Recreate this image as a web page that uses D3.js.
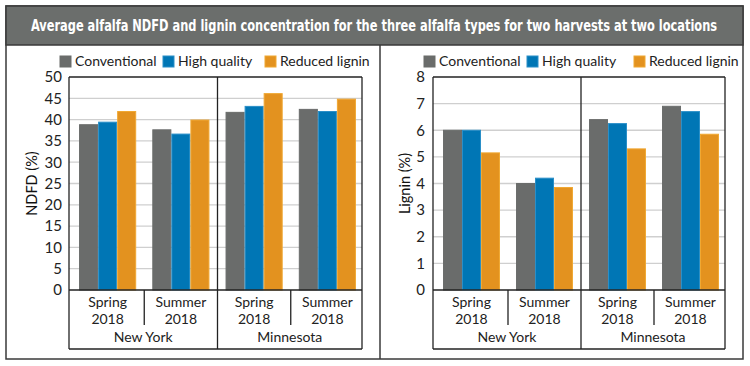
<!DOCTYPE html>
<html><head><meta charset="utf-8">
<script src="https://cdn.jsdelivr.net/npm/d3@7/dist/d3.min.js"></script>
<style>body{margin:0;background:#fff}svg{display:block}</style>
</head><body>
<svg id="c" width="750" height="366"></svg>
<script>
const title = "Average alfalfa NDFD and lignin concentration for the three alfalfa types for two harvests at two locations";
const seriesNames = ["Conventional", "High quality", "Reduced lignin"];
const colors = ["#6a6c6b", "#0076b5", "#e3921f"];
const strokes = ["#6a6c6b", "#2a8fc8", "#f0a833"];
const harvests = ["Spring|2018", "Summer|2018", "Spring|2018", "Summer|2018"];
const locations = ["New York", "Minnesota"];
const ndfdConventional = [38.8, 37.6, 41.7, 42.4];
const ndfdHighQuality = [39.4, 36.6, 43.1, 41.9];
const ndfdReducedLignin = [41.9, 39.9, 46.1, 44.8];
const ligninConventional = [6.0, 4.0, 6.4, 6.9];
const ligninHighQuality = [6.0, 4.2, 6.25, 6.7];
const ligninReducedLignin = [5.15, 3.85, 5.3, 5.85];
const ndfdTicks = [0, 5, 10, 15, 20, 25, 30, 35, 40, 45, 50];
const ligninTicks = [0, 1, 2, 3, 4, 5, 6, 7, 8];

const svg = d3.select("#c");
const font = "Lato, 'Open Sans', sans-serif";

// outer frame
svg.append("rect").attr("x", 6).attr("y", 6).attr("width", 737).attr("height", 353)
  .attr("fill", "#fff").attr("stroke", "#3a3a3a").attr("stroke-width", 1.5);
svg.append("rect").attr("x", 6).attr("y", 6).attr("width", 737).attr("height", 39)
  .attr("fill", "#6b6e6c").attr("stroke", "#3a3a3a").attr("stroke-width", 1.5);
const tg = svg.append("g").attr("transform", "translate(374,25) scale(1,1.3)");
const tt = tg.append("text").attr("x", 0).attr("y", 0).attr("dy", "0.35em").attr("text-anchor", "middle")
  .attr("fill", "#fff").attr("font-family", "'Liberation Sans Narrow','DejaVu Sans Condensed',sans-serif")
  .attr("font-weight", "bold").attr("font-size", 16).text(title);
const w0 = tt.node().getComputedTextLength();
if (w0 > 0) tt.attr("font-size", Math.min(18, 16 * 686 / w0));
svg.append("line").attr("x1", 380).attr("x2", 380).attr("y1", 45).attr("y2", 359)
  .attr("stroke", "#3a3a3a").attr("stroke-width", 1.5);

function panel(cfg) {
  const g = svg.append("g");
  const top = 77, base = 290, tableBottom = 349;
  const y = d3.scaleLinear().domain([0, cfg.max]).range([base, top]);
  const x = d3.scaleBand().domain(d3.range(4)).range([cfg.x0 + 2, cfg.x1 + 2]).paddingInner(0.22).paddingOuter(0.11);
  const xs = d3.scaleBand().domain(d3.range(3)).range([0, x.bandwidth()]);
  // gridlines
  g.append("g").selectAll("line").data(cfg.ticks.filter(t => t > 0 && t < cfg.max)).join("line")
    .attr("x1", cfg.x0).attr("x2", cfg.x1).attr("y1", d => y(d)).attr("y2", d => y(d))
    .attr("stroke", "#cfcfcf").attr("stroke-width", 1.3);
  // bars
  const data = [];
  cfg.series.forEach((s, si) => s.forEach((v, ci) => data.push({ si, ci, v })));
  g.append("g").selectAll("rect").data(data).join("rect")
    .attr("x", d => x(d.ci) + xs(d.si) + 0.5).attr("width", xs.bandwidth() - 1)
    .attr("y", d => y(d.v)).attr("height", d => y(0) - y(d.v))
    .attr("fill", d => colors[d.si]).attr("stroke", d => strokes[d.si]).attr("stroke-width", 1);
  // y axis ticks
  const ax = g.append("g").attr("transform", `translate(${cfg.x0},0)`)
    .call(d3.axisLeft(y).tickValues(cfg.ticks).tickSize(0).tickPadding(cfg.tickPad));
  ax.select(".domain").remove();
  ax.selectAll("text").attr("font-family", font).attr("font-size", 15).attr("fill", "#222");
  // y label
  g.append("text").attr("transform", `translate(${cfg.labelX},${(top + base) / 2}) rotate(-90)`)
    .attr("text-anchor", "middle").attr("font-family", font).attr("font-size", 14.5)
    .attr("fill", "#111").attr("dy", "0.35em").text(cfg.label);
  // frame lines
  const ln = (x1, y1, x2, y2) => g.append("line").attr("x1", x1).attr("y1", y1).attr("x2", x2).attr("y2", y2)
    .attr("stroke", "#222").attr("stroke-width", 1.3);
  ln(cfg.x0, top, cfg.x1, top);
  ln(cfg.x0, top, cfg.x0, tableBottom);
  ln(cfg.x1, top, cfg.x1, tableBottom);
  ln(cfg.x0, base, cfg.x1, base);
  ln(cfg.x0, tableBottom, cfg.x1, tableBottom);
  const mid = (x(1) + x.bandwidth() + x(2)) / 2;
  ln(mid, top, mid, tableBottom);
  [0, 2].forEach(i => {
    const sx = (x(i) + x.bandwidth() + x(i + 1)) / 2;
    ln(sx, base, sx, 325);
  });
  // category labels
  harvests.forEach((h, i) => {
    const [a, b] = h.split("|");
    const cx = x(i) + x.bandwidth() / 2;
    g.append("text").attr("x", cx).attr("y", 307).attr("text-anchor", "middle")
      .attr("font-family", font).attr("font-size", 14).attr("fill", "#222").text(a);
    g.append("text").attr("x", cx).attr("y", 324).attr("text-anchor", "middle")
      .attr("font-family", font).attr("font-size", 14).attr("fill", "#222").text(b);
  });
  locations.forEach((l, i) => {
    const cx = i === 0 ? (cfg.x0 + mid) / 2 : (mid + cfg.x1) / 2;
    g.append("text").attr("x", cx).attr("y", 342).attr("text-anchor", "middle")
      .attr("font-family", font).attr("font-size", 14).attr("fill", "#222").text(l);
  });
  // legend
  cfg.legendX.forEach((lx, i) => {
    g.append("rect").attr("x", lx).attr("y", 56).attr("width", 11).attr("height", 11)
      .attr("fill", colors[i]).attr("stroke", strokes[i]);
    g.append("text").attr("x", lx + 15).attr("y", 66).attr("font-family", font)
      .attr("font-size", 14).attr("fill", "#222").text(seriesNames[i]);
  });
}

panel({ x0: 69, x1: 362, max: 50, ticks: ndfdTicks, tickPad: 7, label: "NDFD (%)", labelX: 32,
  series: [ndfdConventional, ndfdHighQuality, ndfdReducedLignin], legendX: [60, 163, 265] });
panel({ x0: 433, x1: 725, max: 8, ticks: ligninTicks, tickPad: 8, label: "Lignin (%)", labelX: 405,
  series: [ligninConventional, ligninHighQuality, ligninReducedLignin], legendX: [424, 527, 634] });
</script>
</body></html>
